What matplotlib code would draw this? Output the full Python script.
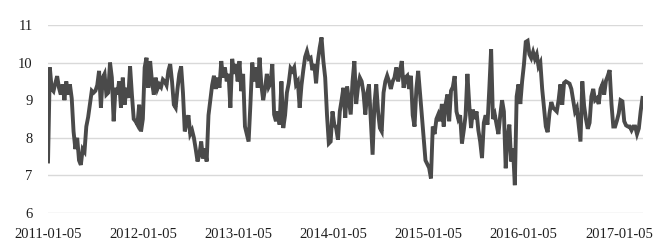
import numpy as np
import pandas as pd
import matplotlib
matplotlib.use("Agg")
from matplotlib import pyplot as plt

plt.rcParams["font.family"] = ["Liberation Serif", "DejaVu Serif"]

# weekly series, starting 2011-01-05
start_date = "2011-01-05"
values = [
    # 2011
    7.37, 9.87, 9.30, 9.24, 9.45, 9.64, 9.33, 9.15, 9.42, 9.00,
    9.50, 9.15, 9.42, 9.05, 8.17, 7.70, 8.00, 7.40, 7.28, 7.70,
    7.63, 8.30, 8.55, 8.90, 9.25, 9.20, 9.25, 9.40, 9.78, 8.80,
    9.60, 9.70, 9.15, 9.20, 10.00, 9.60, 8.44, 9.33, 9.15, 9.50,
    8.80, 9.60, 8.88, 9.33, 9.06, 9.90, 9.15, 8.50, 8.44, 8.35,
    8.88, 8.17, 8.50,
    # 2012
    9.87, 10.13, 9.33, 10.04, 9.50, 9.15, 9.60, 9.30, 9.42, 9.35,
    9.55, 9.50, 9.40, 9.78, 9.96, 9.50, 8.88, 8.80, 9.30, 9.70,
    9.90, 9.20, 8.17, 8.40, 8.60, 8.10, 8.20, 8.00, 7.70, 7.37,
    7.55, 7.90, 7.45, 7.72, 7.37, 8.60, 9.00, 9.40, 9.65, 9.30,
    9.60, 9.33, 10.04, 9.60, 9.87, 9.50, 9.70, 8.80, 10.10, 9.70,
    9.96, 9.50, 10.04, 9.24, 9.70,
    # 2013
    8.30, 8.10, 7.90, 8.90, 10.00, 9.50, 9.87, 9.33, 10.13, 9.40,
    9.00, 9.30, 9.70, 9.35, 9.45, 9.96, 8.62, 8.44, 8.70, 8.35,
    9.50, 8.26, 8.60, 9.20, 9.45, 9.85, 9.78, 9.87, 9.42, 9.50,
    8.80, 9.40, 9.80, 10.15, 10.30, 10.10, 10.13, 9.80, 9.96, 9.45,
    10.05, 10.40, 10.67, 10.04, 9.60, 8.60, 7.85, 7.90, 8.70, 8.35,
    8.26, 7.95, 8.70, 9.00,
    # 2014
    9.33, 8.53, 9.37, 9.00, 8.62, 9.50, 10.04, 8.90, 9.35, 9.60,
    9.50, 9.20, 8.62, 9.15, 9.42, 8.50, 7.55, 8.90, 9.42, 8.70,
    8.26, 8.17, 9.20, 9.50, 9.65, 9.50, 9.30, 9.50, 9.60, 9.87,
    9.50, 9.78, 10.04, 9.33, 9.60, 9.65, 9.30, 9.65, 8.60, 8.30,
    9.30, 9.78, 9.20, 8.60, 8.00, 7.40, 7.30, 7.20, 6.92, 8.30,
    8.10, 8.50, 8.62, 8.44,
    # 2015
    8.90, 8.30, 8.88, 9.15, 8.44, 9.25, 9.35, 9.64, 8.70, 8.50,
    8.60, 7.85, 8.20, 8.60, 9.70, 8.88, 8.26, 8.75, 8.50, 8.70,
    8.20, 7.90, 7.46, 8.40, 8.60, 8.35, 9.30, 10.36, 8.50, 8.62,
    8.35, 8.10, 8.60, 9.00, 8.70, 7.19, 8.00, 8.35, 7.37, 7.72,
    6.74, 9.10, 9.42, 8.90, 9.50, 9.95, 10.55, 10.58, 10.22, 10.12,
    10.28, 10.10, 10.22, 9.90,
    # 2016 - 2017
    10.00, 9.30, 8.80, 8.30, 8.15, 8.65, 8.95, 8.80, 8.75, 8.70,
    9.00, 9.42, 8.88, 9.46, 9.50, 9.47, 9.44, 9.30, 9.00, 8.70,
    8.80, 8.35, 7.90, 9.50, 8.85, 8.50, 8.24, 8.40, 9.10, 9.30,
    9.00, 9.05, 8.90, 9.30, 9.42, 9.15, 9.52, 9.65, 9.80, 8.90,
    8.30, 8.30, 8.46, 8.65, 9.00, 8.97, 8.44, 8.33, 8.30, 8.30,
    8.20, 8.30, 8.30, 8.10, 8.25, 8.70, 9.06,
]

tick_labels = ["2011-01-05", "2012-01-05", "2013-01-05", "2014-01-05",
               "2015-01-05", "2016-01-05", "2017-01-05"]
y_ticks = [6, 7, 8, 9, 10, 11]

dates = pd.date_range(start_date, periods=len(values), freq="7D")

fig = plt.figure(figsize=(6.67, 2.5), dpi=100)
ax = fig.add_axes([0.072, 0.148, 0.892, 0.752])

ax.plot(dates, values, color="#4a4a4a", linewidth=2.8, solid_joinstyle="miter")

ax.set_ylim(6, 11)
ax.set_yticks(y_ticks)
ax.set_xlim(dates[0], dates[-1] + pd.Timedelta(days=2))
ax.set_xticks(pd.to_datetime(tick_labels))
ax.set_xticklabels(tick_labels)

ax.grid(axis="y", color="#d9d9d9", linewidth=1.0)
ax.set_axisbelow(True)
for s in ax.spines.values():
    s.set_visible(False)
ax.tick_params(axis="both", length=0, labelsize=10.5, colors="#1f1f1f")
ax.tick_params(axis="x", pad=11)
ax.tick_params(axis="y", pad=11)

plt.savefig("out.png", dpi=100)
plt.close()
